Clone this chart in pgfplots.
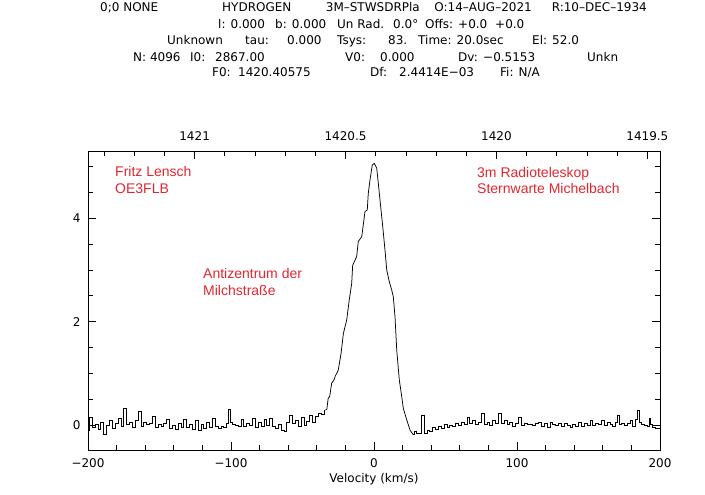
\documentclass[border=0pt]{standalone}
\usepackage{fontspec}
\setmainfont{DejaVu Sans}
\newfontfamily\arialfont{Liberation Sans}
\usepackage{pgfplots}
\pgfplotsset{compat=1.18}
\definecolor{annot}{RGB}{226,38,48}
\newcommand{\hf}{\fontsize{12}{14}\selectfont}
\newcommand{\hd}[3]{\node[anchor=base west,inner sep=0,font=\hf] at (#1-88,450-#2) {#3};}
\newcommand{\hde}[3]{\node[anchor=base east,inner sep=0,font=\hf] at (#1-88,450-#2) {#3};}
\begin{document}
\begin{tikzpicture}[x=1pt,y=1pt]
\path[use as bounding box] (-88,-45) rectangle (617,450);
\begin{axis}[
  at={(0,0)}, anchor=south west, scale only axis,
  width=572pt, height=299pt,
  xmin=-200, xmax=200, ymin=-0.484, ymax=5.30,
  xtick={-200,-100,0,100,200}, xticklabels={−200,−100,0,100,200},
  minor xtick={-200,-180,...,200},
  ytick={0,2,4}, minor ytick={0.5,1,1.5,2.5,3,3.5,4.5,5},
  xtick pos=left, ytick pos=both, yticklabel pos=left,
  tick align=inside,
  major tick length=8pt, minor tick length=5pt,
  tick style={black, line width=0.7pt},
  axis line style={black, line width=0.8pt},
  ticklabel style={font=\hf},
  xticklabel style={yshift=-5pt},
  yticklabel style={xshift=-4pt},
  /pgf/number format/assume math mode=true,
  xlabel={Velocity (km/s)},
  xlabel style={font=\hf, at={(axis description cs:0.5,0)}, anchor=base, yshift=-33pt},
]
% left baseline
\addplot[black, line width=0.75pt, const plot mark mid] coordinates {
(-200,-0.10) (-198,0.15) (-196,-0.05) (-194,0.02) (-192,-0.08) (-190,0.05)
(-188,-0.18) (-186,0.00) (-184,0.08) (-182,-0.06) (-180,0.04) (-178,0.12)
(-176,-0.02) (-174,0.32) (-172,0.02) (-170,0.05) (-168,-0.04) (-166,0.08)
(-164,0.26) (-162,-0.02) (-160,0.06) (-158,0.02) (-156,0.04) (-154,0.17)
(-152,-0.04) (-150,0.02) (-148,-0.02) (-146,0.03) (-144,0.11) (-142,-0.06)
(-140,0.00) (-138,-0.09) (-136,0.04) (-134,-0.05) (-132,0.10) (-130,-0.04)
(-128,0.02) (-126,-0.08) (-124,0.08) (-122,-0.10) (-120,0.02) (-118,-0.06)
(-116,0.05) (-114,-0.04) (-112,0.13) (-110,-0.02) (-108,-0.06) (-106,-0.03)
(-104,-0.05) (-102,0.04) (-101,0.31) (-100,0.05) (-98,0.02) (-96,0.00)
(-94,-0.02) (-92,0.10) (-90,-0.03) (-88,0.03) (-86,-0.01) (-84,0.12)
(-82,-0.04) (-80,0.06) (-78,-0.03) (-76,0.10) (-74,0.00) (-72,0.12)
(-70,-0.02) (-68,-0.06) (-66,0.02) (-64,-0.10) (-62,-0.12) (-60,0.06)
(-58,0.18) (-56,0.04) (-54,0.09) (-52,-0.02) (-50,0.14) (-48,0.00)
(-46,0.07) (-44,0.18) (-42,0.05) (-40,0.16) (-38.2,0.23) (-36,0.20)
(-34,0.29)
};
% line profile
\addplot[black, line width=0.75pt] coordinates {
(-34,0.29) (-33,0.30) (-32,0.52) (-31,0.55) (-29.6,0.81) (-28,0.87) (-27,0.95) (-25,1.06)
(-23,1.39) (-21.4,1.77) (-19.1,2.03) (-17.3,2.42) (-15.6,2.74) (-14.9,3.09)
(-12.1,3.26) (-11,3.55) (-8.6,3.64) (-7.5,3.87) (-6.3,4.13) (-4.7,4.16)
(-4,4.48) (-2.8,4.74) (-1.2,5.03) (0.2,5.06) (1.9,4.97) (3.0,4.68)
(4.2,4.35) (6.1,3.84) (7.7,3.38) (8.9,3.00) (10.7,2.77) (12.4,2.61)
(13.5,2.48) (14.7,2.09) (15.9,1.45) (17.7,0.87) (19.4,0.55) (20.5,0.32)
(22.9,0.10) (25.2,-0.10) (27.5,-0.19)
};
% right baseline
\addplot[black, line width=0.75pt, const plot mark mid] coordinates {
(27.5,-0.19) (29,-0.12) (30.5,-0.17) (32.2,-0.16)
(34.5,0.19) (36.2,-0.16) (38,-0.10) (40,-0.12) (42,-0.05) (44,-0.08)
(46,-0.02) (48,-0.06) (50,0.02) (52,-0.04) (54,0.00) (56,-0.03)
(58,0.03) (60,0.00) (62,0.05) (64,0.02) (66,0.14) (68,0.04)
(70,0.08) (72,0.02) (74,0.06) (76,0.23) (78,0.02) (80,0.05)
(82,0.00) (84,0.08) (86,0.03) (88,0.23) (90,0.04) (92,0.09)
(94,0.02) (96,0.06) (98,-0.02) (100,0.04) (102,0.14) (104,0.00)
(106,0.03) (108,0.01) (110,0.02) (112,-0.01) (114,0.03) (116,0.06)
(118,-0.02) (120,0.03) (122,-0.04) (124,0.05) (126,0.02) (128,0.00)
(130,0.04) (132,-0.02) (134,0.03) (136,-0.01) (138,-0.04) (140,0.02)
(142,-0.03) (144,0.06) (146,-0.02) (148,0.03) (150,0.00) (152,0.09)
(154,-0.01) (156,0.04) (158,0.02) (160,0.08) (162,0.00) (164,0.06)
(166,0.02) (168,-0.02) (170,0.05) (171,0.19) (172,0.02) (174,0.04)
(176,0.00) (178,0.03) (180,0.08) (182,-0.02) (184,0.10) (185,0.29)
(186,0.05) (188,0.02) (190,0.00) (192,-0.02) (193,0.12) (194,0.02)
(196,-0.05) (198,-0.06) (200,-0.06)
};
\end{axis}
\begin{axis}[
  at={(0,0)}, anchor=south west, scale only axis,
  width=572pt, height=299pt,
  xmin=-0.54184, xmax=1.35334, x dir=reverse,
  ymin=0, ymax=1, ytick=\empty,
  xtick={-0.5,0,0.5,1}, xticklabels={1419.5,1420,1420.5,1421},
  minor xtick={-0.5,-0.4,-0.3,-0.2,-0.1,0,0.1,0.2,0.3,0.4,0.5,0.6,0.7,0.8,0.9,1,1.1,1.2,1.3},
  xtick pos=right, xticklabel pos=right,
  tick align=inside,
  major tick length=8pt, minor tick length=5pt,
  tick style={black, line width=0.7pt},
  axis line style={black, line width=0.8pt},
  ticklabel style={font=\hf},
  xticklabel style={yshift=7pt},
]
\addplot[draw=none] coordinates {(0,0.5)};
\end{axis}
% header
\hd{100}{11.7}{0;0 NONE}
\hd{222}{11.7}{HYDROGEN}
\hde{420}{11.7}{3M–STWSDRPla}
\hde{532}{11.7}{O:14–AUG–2021}
\hde{647}{11.7}{R:10–DEC–1934}
\hd{218}{28.3}{l: 0.000}
\hd{275}{28.3}{b: 0.000}
\hd{337}{28.3}{Un Rad.}
\hd{393}{28.3}{0.0°}
\hd{425}{28.3}{Offs:}
\hd{458}{28.3}{+0.0}
\hd{495}{28.3}{+0.0}
\hd{167}{45}{Unknown}
\hd{245}{45}{tau:}
\hd{287}{45}{0.000}
\hd{337}{45}{Tsys:}
\hd{388}{45}{83.}
\hd{418}{45}{Time: 20.0sec}
\hd{532}{45}{El: 52.0}
\hd{133}{61.7}{N: 4096}
\hd{190}{61.7}{I0:}
\hd{215}{61.7}{2867.00}
\hd{345}{61.7}{V0:}
\hd{380}{61.7}{0.000}
\hd{458}{61.7}{Dv:}
\hd{483}{61.7}{−0.5153}
\hd{587}{61.7}{Unkn}
\hd{212}{76.7}{F0:}
\hd{238}{76.7}{1420.40575}
\hd{370}{76.7}{Df:}
\hd{399}{76.7}{2.4414E−03}
\hd{500}{76.7}{Fi: N/A}
% annotations
\node[anchor=west,inner sep=0,align=left,text=annot,font=\arialfont\fontsize{14}{16.5}\selectfont] at (27,270) {Fritz Lensch\\OE3FLB};
\node[anchor=west,inner sep=0,align=left,text=annot,font=\arialfont\fontsize{14}{16.5}\selectfont] at (389,269.5) {3m Radioteleskop\\Sternwarte Michelbach};
\node[anchor=west,inner sep=0,align=left,text=annot,font=\arialfont\fontsize{14}{16.5}\selectfont] at (115,168) {Antizentrum der\\Milchstraße};
\end{tikzpicture}
\end{document}
